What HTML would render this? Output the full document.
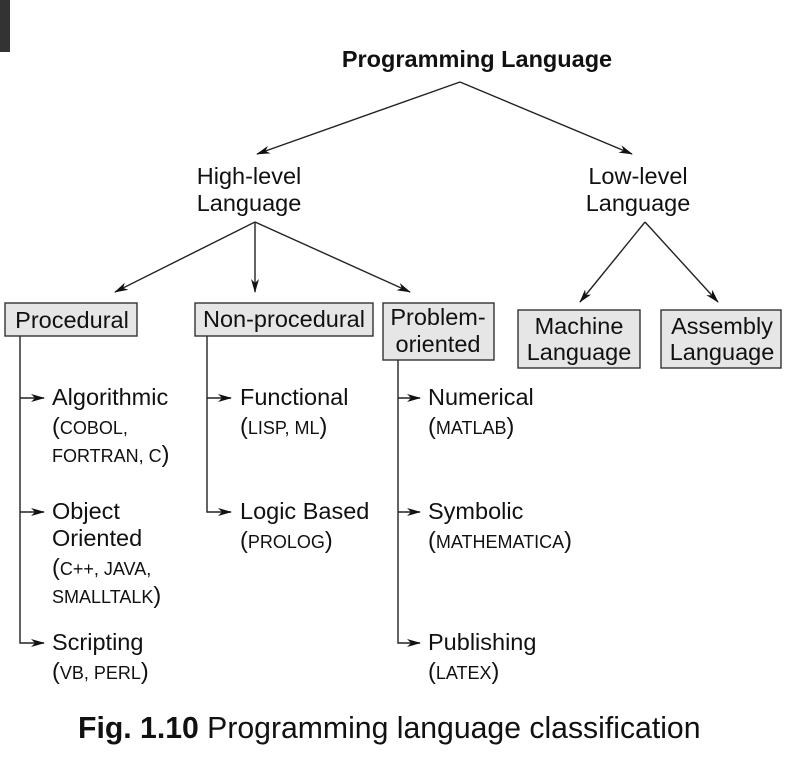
<!DOCTYPE html>
<html><head><meta charset="utf-8"><style>
body{margin:0;background:#fff;}
svg{display:block;font-family:"Liberation Sans",Arial,sans-serif;}
.t{font-size:23.5px;fill:#111;}
.s{font-size:18px;fill:#111;}
.p{font-size:23.5px;}
</style></head><body>
<svg width="787" height="762" viewBox="0 0 787 762">
<defs><marker id="a" markerWidth="14" markerHeight="8" refX="13" refY="4" orient="auto" markerUnits="userSpaceOnUse"><path d="M0,0 L14,4 L0,8 L4,4 Z" fill="#111"/></marker></defs>
<rect x="0" y="0" width="10" height="52" fill="#333"/>
<g stroke="#222" stroke-width="1.4" fill="none">
<line x1="460" y1="82" x2="257" y2="154" marker-end="url(#a)"/>
<line x1="460" y1="82" x2="632" y2="154" marker-end="url(#a)"/>
<line x1="255" y1="222" x2="115" y2="292" marker-end="url(#a)"/>
<line x1="255" y1="222" x2="255" y2="292" marker-end="url(#a)"/>
<line x1="255" y1="222" x2="410" y2="292" marker-end="url(#a)"/>
<line x1="645" y1="222" x2="580" y2="302" marker-end="url(#a)"/>
<line x1="645" y1="222" x2="718" y2="302" marker-end="url(#a)"/>
<polyline points="20,336 20,643 44,643" marker-end="url(#a)"/>
<line x1="20" y1="398" x2="44" y2="398" marker-end="url(#a)"/>
<line x1="20" y1="512" x2="44" y2="512" marker-end="url(#a)"/>
<polyline points="207,336 207,512 231,512" marker-end="url(#a)"/>
<line x1="207" y1="398" x2="231" y2="398" marker-end="url(#a)"/>
<polyline points="398,360 398,643 420,643" marker-end="url(#a)"/>
<line x1="398" y1="398" x2="420" y2="398" marker-end="url(#a)"/>
<line x1="398" y1="512" x2="420" y2="512" marker-end="url(#a)"/>
</g>
<g fill="#e6e6e6" stroke="#333" stroke-width="1.4">
<rect x="5" y="303" width="132" height="33"/>
<rect x="195" y="303" width="178" height="33"/>
<rect x="383" y="303" width="111" height="57"/>
<rect x="518" y="310" width="122" height="58"/>
<rect x="661" y="310" width="120" height="58"/>
</g>
<text x="477" y="67" text-anchor="middle" font-size="23.5" font-weight="bold" fill="#111">Programming Language</text>
<text class="t" x="249" y="184" text-anchor="middle">High-level</text>
<text class="t" x="249" y="211" text-anchor="middle">Language</text>
<text class="t" x="638" y="184" text-anchor="middle">Low-level</text>
<text class="t" x="638" y="211" text-anchor="middle">Language</text>
<text class="t" x="72" y="328" text-anchor="middle">Procedural</text>
<text class="t" x="284" y="327" text-anchor="middle">Non-procedural</text>
<text class="t" x="438" y="325" text-anchor="middle">Problem-</text>
<text class="t" x="438" y="352" text-anchor="middle">oriented</text>
<text class="t" x="579" y="334" text-anchor="middle">Machine</text>
<text class="t" x="579" y="360" text-anchor="middle">Language</text>
<text class="t" x="722" y="334" text-anchor="middle">Assembly</text>
<text class="t" x="722" y="360" text-anchor="middle">Language</text>
<g>
<text class="t" x="52" y="405">Algorithmic</text>
<text class="s" x="52" y="434"><tspan class="p">(</tspan>COBOL,</text>
<text class="s" x="52" y="462">FORTRAN, C<tspan class="p">)</tspan></text>
<text class="t" x="52" y="519">Object</text>
<text class="t" x="52" y="546">Oriented</text>
<text class="s" x="52" y="575"><tspan class="p">(</tspan>C++, JAVA,</text>
<text class="s" x="52" y="603">SMALLTALK<tspan class="p">)</tspan></text>
<text class="t" x="52" y="650">Scripting</text>
<text class="s" x="52" y="679"><tspan class="p">(</tspan>VB, PERL<tspan class="p">)</tspan></text>
</g>
<g>
<text class="t" x="240" y="405">Functional</text>
<text class="s" x="240" y="434"><tspan class="p">(</tspan>LISP, ML<tspan class="p">)</tspan></text>
<text class="t" x="240" y="519">Logic Based</text>
<text class="s" x="240" y="548"><tspan class="p">(</tspan>PROLOG<tspan class="p">)</tspan></text>
</g>
<g>
<text class="t" x="428" y="405">Numerical</text>
<text class="s" x="428" y="434"><tspan class="p">(</tspan>MATLAB<tspan class="p">)</tspan></text>
<text class="t" x="428" y="519">Symbolic</text>
<text class="s" x="428" y="548"><tspan class="p">(</tspan>MATHEMATICA<tspan class="p">)</tspan></text>
<text class="t" x="428" y="650">Publishing</text>
<text class="s" x="428" y="679"><tspan class="p">(</tspan>LATEX<tspan class="p">)</tspan></text>
</g>
<text x="78" y="738" font-size="30.2" fill="#111"><tspan font-weight="bold">Fig. 1.10</tspan>  Programming language classification</text>
</svg>
</body></html>
